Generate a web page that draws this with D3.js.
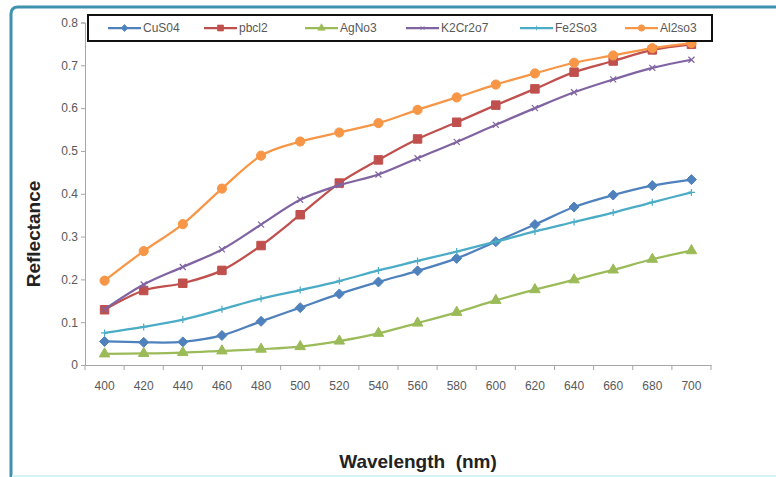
<!DOCTYPE html>
<html>
<head>
<meta charset="utf-8">
<script src="https://cdn.jsdelivr.net/npm/d3@7"></script>
<style>
  body { margin: 0; background: #fff; }
  svg { display: block; }
  .tick-label { font-family: "Liberation Sans", Arial, sans-serif; font-size: 12px; fill: #595959; }
  .axis-title { font-family: "Liberation Sans", Arial, sans-serif; font-size: 19px; font-weight: bold; fill: #222; white-space: pre; }
  .legend-text { font-family: "Liberation Sans", Arial, sans-serif; font-size: 12px; fill: #595959; }
</style>
</head>
<body>
<svg id="chart" width="776" height="477"></svg>
<script>
// wavelengths (nm) - category axis
const wavelengths = [400, 420, 440, 460, 480, 500, 520, 540, 560, 580, 600, 620, 640, 660, 680, 700];

// reflectance per sample
const cuso4   = [0.055, 0.053, 0.054, 0.069, 0.102, 0.134, 0.166, 0.194, 0.220, 0.249, 0.288, 0.328, 0.369, 0.397, 0.419, 0.433];
const pbcl2   = [0.129, 0.174, 0.191, 0.221, 0.279, 0.351, 0.425, 0.479, 0.528, 0.567, 0.607, 0.645, 0.684, 0.710, 0.736, 0.749];
const agno3   = [0.026, 0.027, 0.029, 0.033, 0.037, 0.043, 0.056, 0.074, 0.098, 0.123, 0.151, 0.176, 0.199, 0.222, 0.247, 0.267];
const k2cr2o7 = [0.130, 0.188, 0.229, 0.270, 0.328, 0.386, 0.420, 0.445, 0.483, 0.521, 0.561, 0.600, 0.637, 0.667, 0.694, 0.713];
const fe2so3  = [0.075, 0.089, 0.106, 0.130, 0.155, 0.175, 0.196, 0.221, 0.243, 0.265, 0.288, 0.312, 0.334, 0.356, 0.380, 0.403];
const al2so3  = [0.197, 0.266, 0.329, 0.412, 0.489, 0.522, 0.543, 0.565, 0.596, 0.625, 0.655, 0.681, 0.706, 0.723, 0.740, 0.752];

const seriesNames = ["CuS04", "pbcl2", "AgNo3", "K2Cr2o7", "Fe2So3", "Al2so3"];
const yTicks = [0, 0.1, 0.2, 0.3, 0.4, 0.5, 0.6, 0.7, 0.8];

const seriesValues = [cuso4, pbcl2, agno3, k2cr2o7, fe2so3, al2so3];
const colors = ["#4F81BD", "#C0504D", "#9BBB59", "#8064A2", "#4BACC6", "#F79646"];
const markers = ["diamond", "square", "triangle", "cross", "plus", "circle"];

const svg = d3.select("#chart");

// frame around the picture (cropped slide border)
svg.append("path")
    .attr("d", "M11,477 L11,14 Q11,7 18,7 L776,7")
    .attr("fill", "none")
    .attr("stroke", "#3f92ad")
    .attr("stroke-width", 3);
svg.append("line")
    .attr("x1", 12).attr("x2", 776).attr("y1", 476).attr("y2", 476)
    .attr("stroke", "#d6f2f7").attr("stroke-width", 2);

const plot = { left: 85, right: 711, top: 22.5, bottom: 365 };

const x = d3.scaleBand()
    .domain(wavelengths)
    .range([plot.left, plot.right]);

const y = d3.scaleLinear()
    .domain([0, 0.8])
    .range([plot.bottom, plot.top]);

// y axis
const yAxis = svg.append("g")
    .attr("transform", `translate(${plot.left},0)`)
    .call(d3.axisLeft(y).tickValues(yTicks).tickSize(4).tickFormat(d => d === 0 ? "0" : d3.format(".1f")(d)));
yAxis.select(".domain").attr("stroke", "#a6a6a6");
yAxis.selectAll(".tick line").attr("stroke", "#a6a6a6");
yAxis.selectAll("text").attr("class", "tick-label").attr("x", -7);

// x axis - ticks between categories like Excel
const xAxis = svg.append("g")
    .attr("transform", `translate(0,${plot.bottom})`)
    .call(d3.axisBottom(x).tickSize(0).tickPadding(16));
xAxis.select(".domain").attr("stroke", "#a6a6a6");
xAxis.selectAll("text").attr("class", "tick-label");
xAxis.selectAll(".sep")
    .data(d3.range(wavelengths.length + 1))
    .enter().append("line")
    .attr("x1", i => plot.left + i * x.step())
    .attr("x2", i => plot.left + i * x.step())
    .attr("y1", 0).attr("y2", 5)
    .attr("stroke", "#a6a6a6");

// axis titles
svg.append("text")
    .attr("class", "axis-title")
    .attr("transform", "translate(40,234) rotate(-90)")
    .attr("text-anchor", "middle")
    .text("Reflectance");

svg.append("text")
    .attr("class", "axis-title")
    .attr("x", 418).attr("y", 468)
    .attr("text-anchor", "middle")
    .text("Wavelength  (nm)");

function markerPath(type) {
    if (type === "diamond") return "M0,-5L5,0L0,5L-5,0Z";
    if (type === "square") return d3.symbol(d3.symbolSquare, 72)();
    if (type === "triangle") return d3.symbol(d3.symbolTriangle, 48)();
    if (type === "circle") return d3.symbol(d3.symbolCircle, 66)();
    if (type === "cross") return "M-3,-3L3,3M-3,3L3,-3";
    return "M-3.5,0L3.5,0M0,-3.5L0,3.5";
}

const line = d3.line()
    .x((d, i) => x(wavelengths[i]) + x.bandwidth() / 2)
    .y(d => y(d))
    .curve(d3.curveCatmullRom.alpha(0));

seriesValues.forEach((vals, s) => {
    const g = svg.append("g");
    g.append("path")
        .datum(vals)
        .attr("d", line)
        .attr("fill", "none")
        .attr("stroke", colors[s])
        .attr("stroke-width", 2.25);

    const open = markers[s] === "cross" || markers[s] === "plus";
    g.selectAll("path.mk")
        .data(vals)
        .enter().append("path")
        .attr("class", "mk")
        .attr("d", markerPath(markers[s]))
        .attr("transform", (d, i) => `translate(${x(wavelengths[i]) + x.bandwidth() / 2},${y(d)})`)
        .attr("fill", open ? "none" : colors[s])
        .attr("stroke", colors[s])
        .attr("stroke-width", open ? 1.2 : 1);
});

// legend
const legendX = [108, 204, 305, 406, 520, 625];
const legend = svg.append("g");
legend.append("rect")
    .attr("x", 88).attr("y", 15)
    .attr("width", 624).attr("height", 26)
    .attr("fill", "#fff")
    .attr("stroke", "#111")
    .attr("stroke-width", 2);

seriesNames.forEach((name, s) => {
    const lx = legendX[s];
    legend.append("line")
        .attr("x1", lx).attr("x2", lx + 33)
        .attr("y1", 28).attr("y2", 28)
        .attr("stroke", colors[s]).attr("stroke-width", 2.25);
    const open = markers[s] === "cross" || markers[s] === "plus";
    legend.append("path")
        .attr("d", markerPath(markers[s]))
        .attr("transform", `translate(${lx + 16.5},28) scale(0.7)`)
        .attr("fill", open ? "none" : colors[s])
        .attr("stroke", colors[s]);
    legend.append("text")
        .attr("class", "legend-text")
        .attr("x", lx + 35).attr("y", 32)
        .text(name);
});
</script>
</body>
</html>
